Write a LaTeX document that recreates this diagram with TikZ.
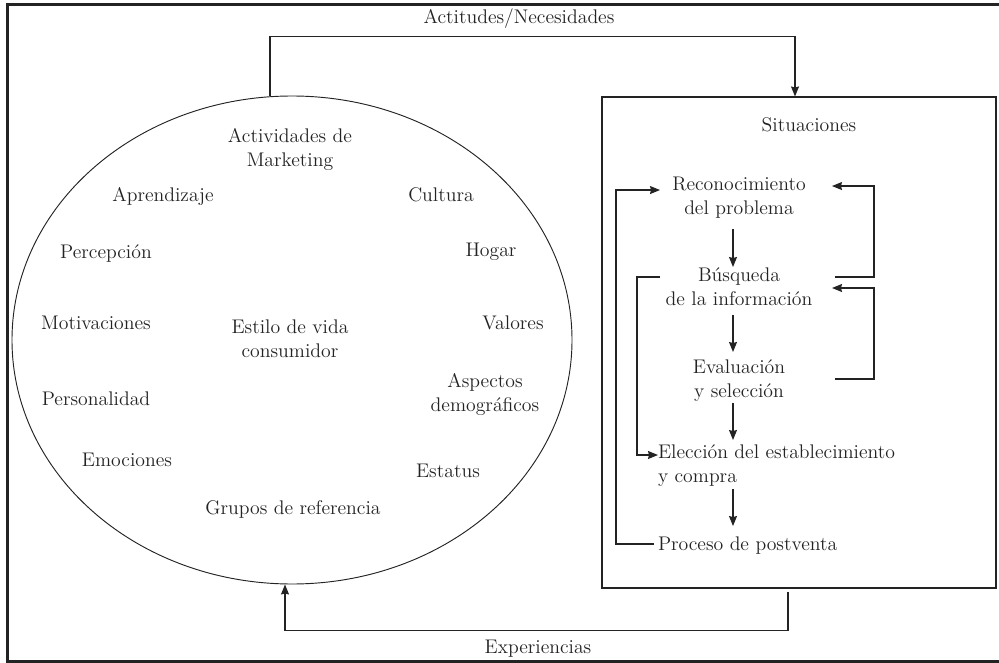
\documentclass[tikz,border=0pt]{standalone}
\usepackage{fontspec}
\usetikzlibrary{shapes.geometric,arrows.meta}
\definecolor{ink}{RGB}{35,35,35}
\begin{document}
\begin{tikzpicture}[x=0.75pt,y=-0.75pt,
  txt/.style={font=\fontsize{14.8}{18}\selectfont, text=ink, inner sep=0pt, outer sep=0pt},
  lbl/.style={txt, anchor=base},
  two/.style={txt, align=center},
  conn/.style={draw=ink, line width=0.9pt},
  arr/.style={conn, -{Stealth[length=7.5pt,width=6pt,inset=0.8pt]}},
  frame/.style={draw=ink, line width=2.25pt},
]
\useasboundingbox (0,0) rectangle (999,663);
\draw[frame] (999,4.5) -- (7.5,4.5) -- (7.5,661.5) -- (999,661.5);

% main shapes
\node[draw=ink, line width=0.7pt, ellipse, minimum width=420pt, minimum height=366pt, inner sep=0pt] (elip) at (292,340) {};
\node[draw=ink, line width=0.8pt, rectangle, minimum width=295.5pt, minimum height=368.25pt, inner sep=0pt] (sit) at (799,342.5) {};

% outer labels
\node[lbl] (tit) at (519,23.3) {Actitudes/Necesidades};
\node[lbl] (exp) at (538,653.3) {Experiencias};
\node[lbl] (sitl) at (809,131.3) {Situaciones};

% ellipse contents
\node[two] (act) at (290,149) {Actividades de\\Marketing};
\node[lbl] (apr) at (163,201.3) {Aprendizaje};
\node[lbl] (cul) at (441,201.3) {Cultura};
\node[lbl] (per) at (106,258.3) {Percepción};
\node[lbl] (hog) at (491,256.3) {Hogar};
\node[lbl] (mot) at (96,329.3) {Motivaciones};
\node[two] (est) at (290,339) {Estilo de vida\\consumidor};
\node[lbl] (val) at (513,329.3) {Valores};
\node[two] (asp) at (485,394) {Aspectos\\demográficos};
\node[lbl] (pers) at (96,405.3) {Personalidad};
\node[lbl] (emo) at (127,466.3) {Emociones};
\node[lbl] (sta) at (448,477.3) {Estatus};
\node[lbl] (gru) at (293,514.3) {Grupos de referencia};

% process steps
\node[two] (rec) at (739,197.5) {Reconocimiento\\del problema};
\node[two] (bus) at (739,287) {Búsqueda\\de la información};
\node[two] (eva) at (739,381) {Evaluación\\y selección};
\node[txt, align=left, anchor=west] (ele) at (658,466) {Elección del establecimiento\\y compra};
\node[lbl, anchor=base west] (pro) at (658,550.3) {Proceso de postventa};

% helper x positions
\coordinate (ax) at (733,0);
\coordinate (xL1) at (616,0);
\coordinate (xL2) at (637,0);
\coordinate (xR) at (874,0);
\coordinate (xRs) at (835,0);
\coordinate (xRt) at (832,0);
\coordinate (xTL) at (660,0);
\coordinate (xPs) at (654,0);
\coordinate (xBs) at (660,0);
\coordinate (xTop) at (795,0);
\coordinate (xBot) at (788,0);

% vertical step arrows
\coordinate (a1s) at ([yshift=-23.6pt]rec.center);
\coordinate (a1e) at ([yshift=15pt]bus.center);
\coordinate (a2s) at ([yshift=-21pt]bus.center);
\coordinate (a2e) at ([yshift=21.75pt]eva.center);
\coordinate (a3s) at ([yshift=-16.5pt]eva.center);
\coordinate (a3e) at ([yshift=19.5pt]ele.center);
\coordinate (a4s) at ([yshift=-17.25pt]ele.center);
\coordinate (a4e) at ([yshift=18.2pt]pro.base);
\draw[arr] (a1s -| ax) -- (a1e -| ax);
\draw[arr] (a2s -| ax) -- (a2e -| ax);
\draw[arr] (a3s -| ax) -- (a3e -| ax);
\draw[arr] (a4s -| ax) -- (a4e -| ax);

% side loops
\coordinate (p1) at ([yshift=4.7pt]pro.base);
\coordinate (r1) at ([yshift=5.6pt]rec.center);
\coordinate (r2) at ([yshift=8.6pt]rec.center);
\coordinate (b1) at ([yshift=7.5pt]bus.center);
\coordinate (b2) at ([yshift=-0.75pt]bus.center);
\coordinate (v1) at ([yshift=1.5pt]eva.center);
\coordinate (e1) at ([yshift=8.25pt]ele.west);
\draw[arr] (p1 -| xPs) -- (p1 -| xL1) |- (r1 -| xTL);
\draw[arr] (b1 -| xBs) -- (b1 -| xL2) |- (e1);
\draw[arr] (b1 -| xRs) -- (b1 -| xR) |- (r2 -| xRt);
\draw[arr] (v1 -| xRs) -- (v1 -| xR) |- (b2 -| xRt);

% outer feedback connectors
\coordinate (etop) at ([xshift=-16.5pt]elip.north);
\coordinate (ebot) at ([xshift=-5.25pt]elip.south);
\draw[arr] (etop) -- ++(0,-59) -| (sit.north -| xTop);
\draw[arr, shorten <=2.25pt] (sit.south -| xBot) -- ++(0,42) -| (ebot);
\end{tikzpicture}
\end{document}
